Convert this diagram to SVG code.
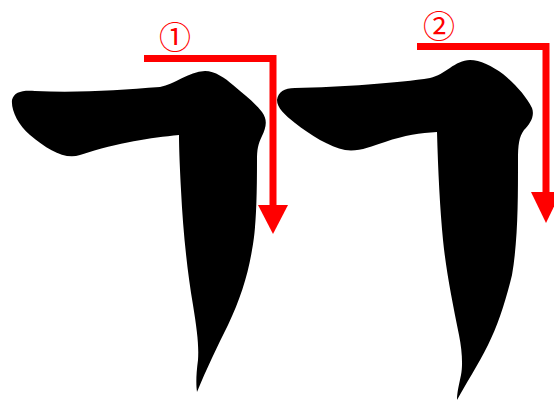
<svg xmlns="http://www.w3.org/2000/svg" width="554" height="401" viewBox="0 0 554 401">
<style>
.stroke{fill:#000}
.arr{fill:none;stroke:#ff0000;stroke-width:7;stroke-linejoin:miter}
.head{fill:#ff0000}
.num{fill:#ff0000;font-family:"Noto Sans CJK JP","DejaVu Sans",sans-serif;font-size:32px;text-anchor:middle;dominant-baseline:central}
</style>
<rect width="554" height="401" fill="#fff"/>
<g id="stroke1">
<path class="stroke" d="M12,100 C14,92 22,90 35,91 C80,93 120,90 160,87 C175,84 188,72 205,71 C215,71 225,78 233,85 C245,95 255,103 262,112 C268,120 266,128 262,136 C258,144 257,150 257,160 C257,200 256,230 252,250 C248,275 240,300 228,325 C218,345 206,370 197,392 C196,385 196,375 198,360 C199,345 197,330 193,305 C187,270 183,230 181,190 C180,170 179,150 179,135 C150,138 120,142 80,155 C65,160 48,150 30,135 C18,125 11,110 12,100 Z"/>
</g>
<g id="stroke2">
<path class="stroke" d="M277,100 C278,92 284,88 295,88 C340,87 400,83 430,78 C445,75 455,60 470,60 C480,60 492,66 503,74 C515,84 526,96 532,108 C535,116 530,124 524,130 C519,137 518,145 518,160 C518,200 518,240 512,275 C506,300 498,325 488,345 C478,365 465,385 457,400 C457,392 459,385 461,375 C463,365 462,350 459,335 C452,300 446,270 443,240 C440,210 438,170 437,132 C420,133 405,135 385,142 C370,147 358,152 345,150 C330,147 310,135 295,123 C285,115 277,108 277,100 Z"/>
</g>
<g id="connectors">
<polyline class="arr" points="144,58.5 273,58.5 273,206"/>
<polygon class="head" points="258,205 288,205 273,234"/>
<polyline class="arr" points="417,46.5 546,46.5 546,193"/>
<polygon class="head" points="531,192 561,192 546,223"/>
</g>
<g id="label1"><text class="num" x="175" y="35">①</text></g>
<g id="label2"><text class="num" x="439" y="24">②</text></g>
</svg>
